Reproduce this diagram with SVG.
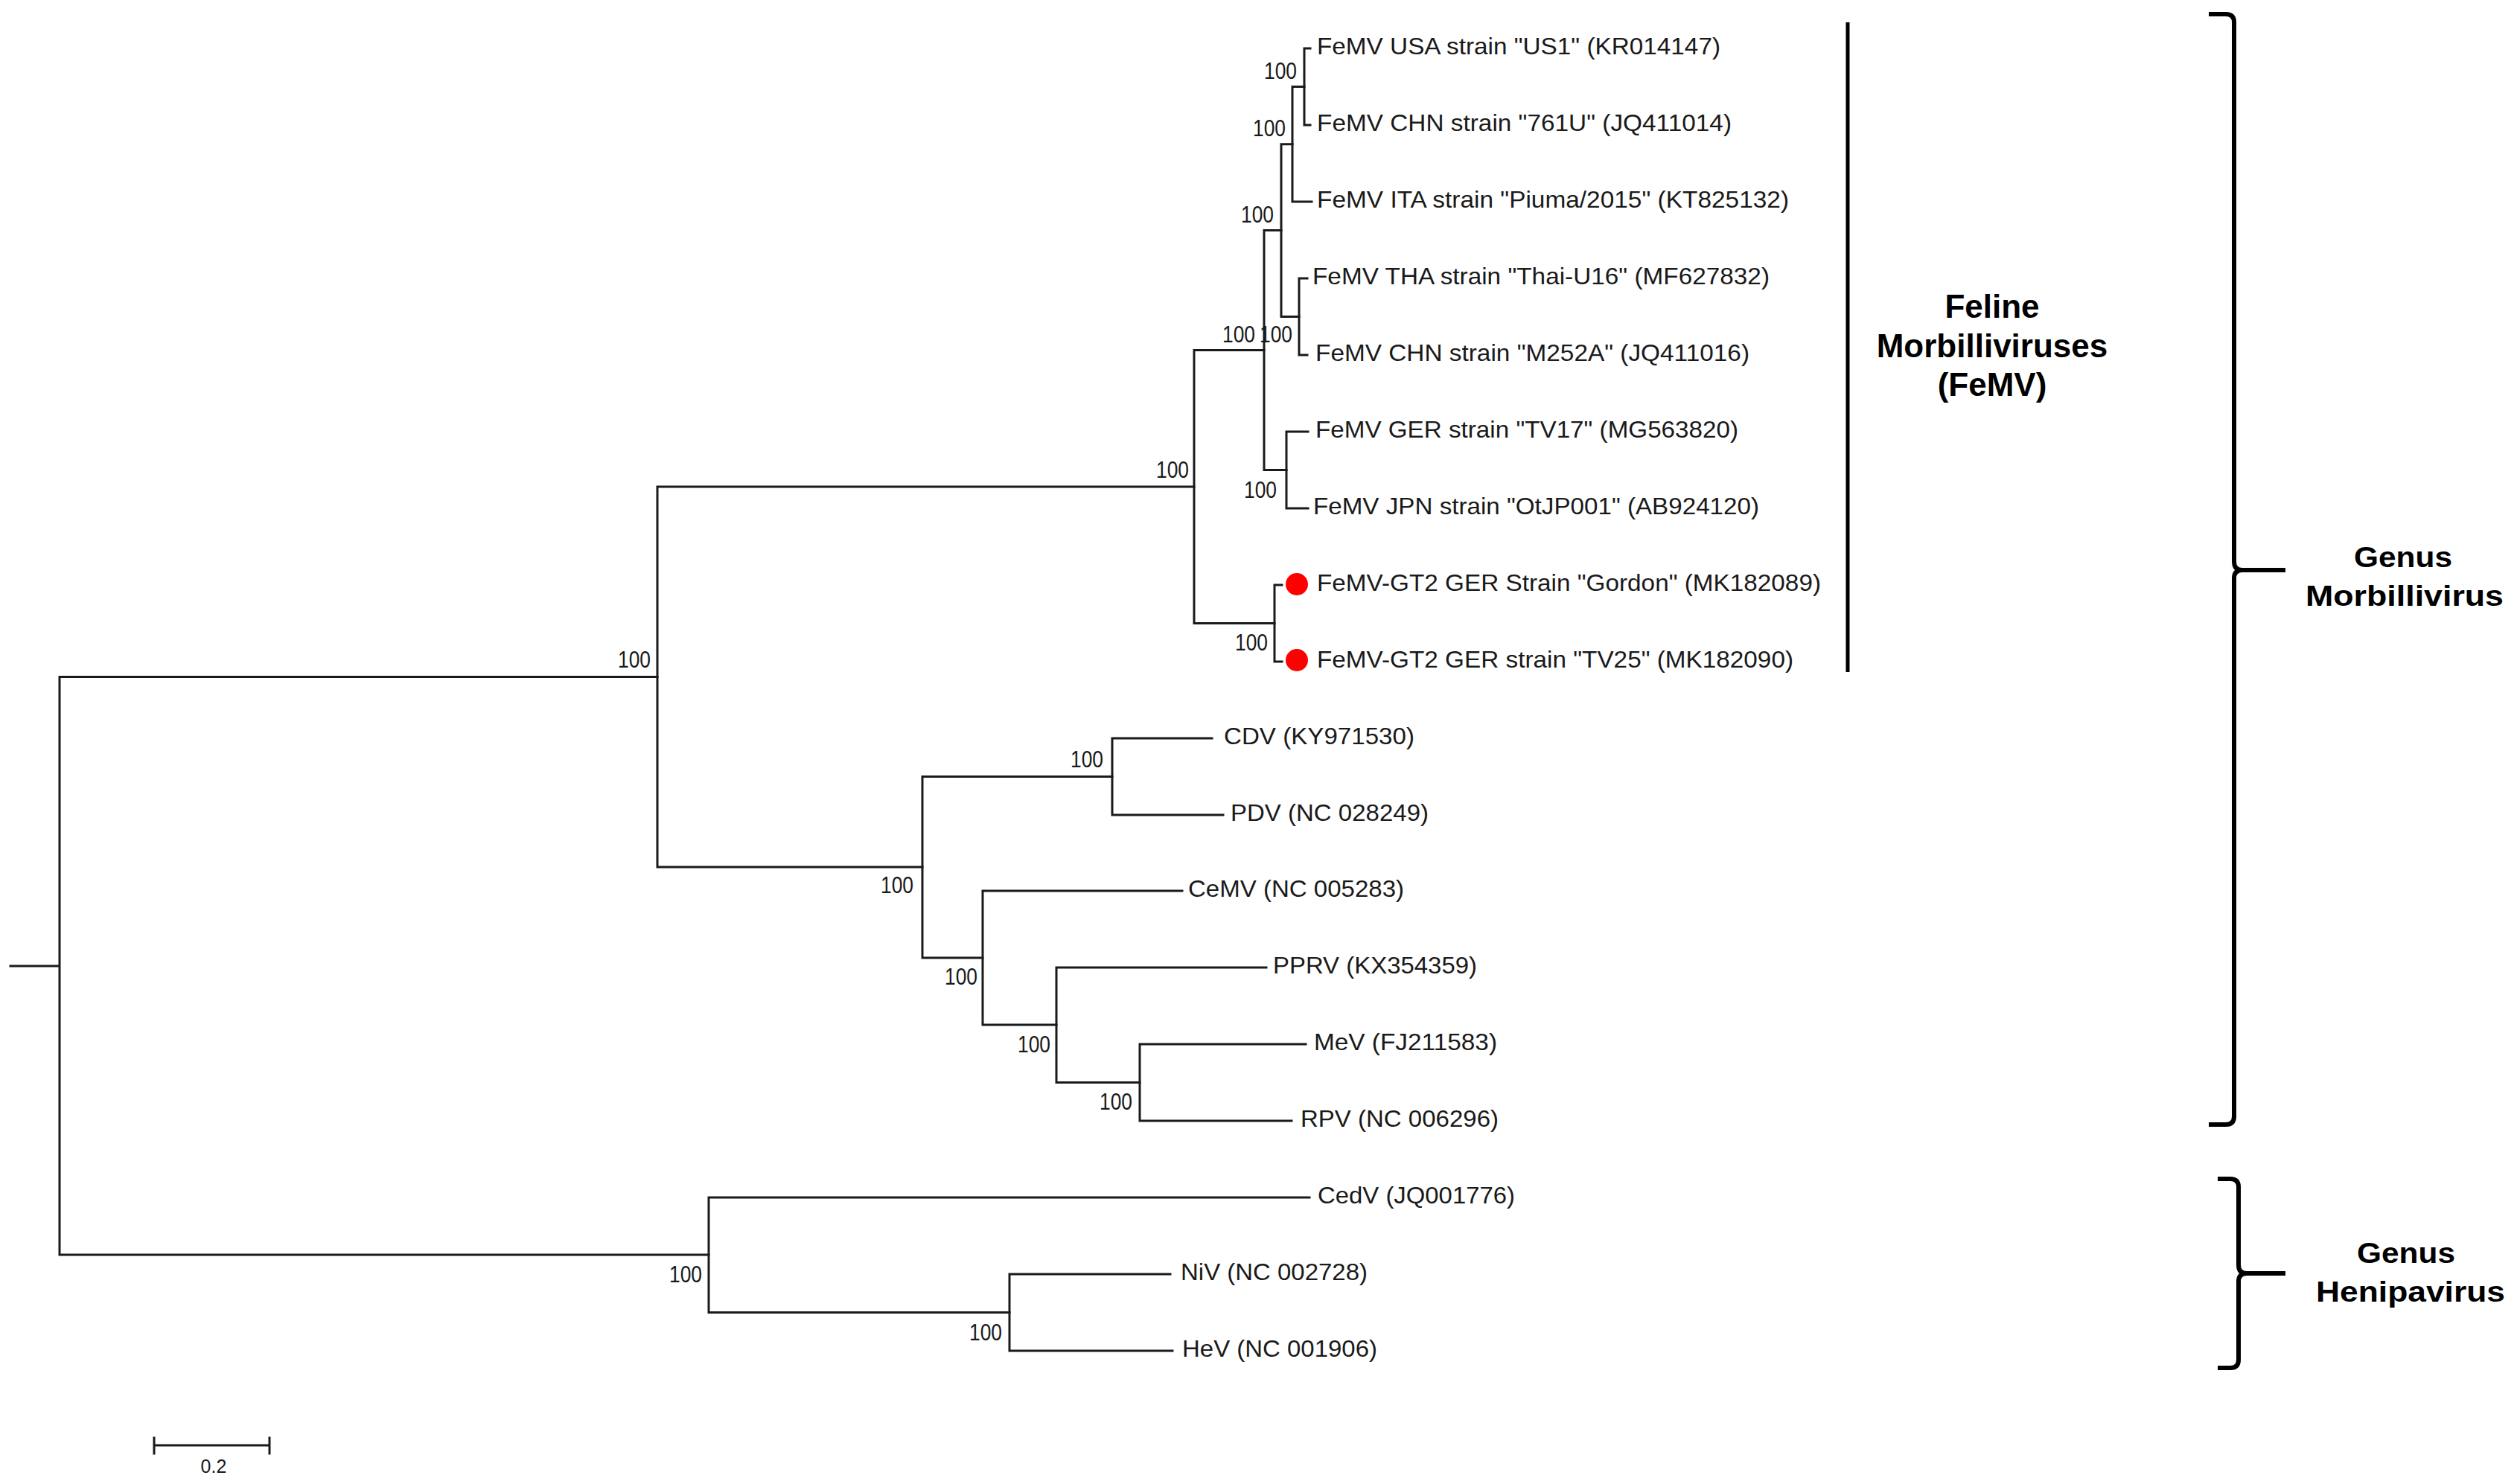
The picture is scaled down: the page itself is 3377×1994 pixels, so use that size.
<svg xmlns="http://www.w3.org/2000/svg" width="3377" height="1994" viewBox="0 0 3377 1994">
<style>
.br{stroke:#1a1a1a;stroke-width:3;fill:none;stroke-linecap:square}
.lf{font-family:"Liberation Sans",Arial,sans-serif;font-size:32px;fill:#1a1a1a}
.bs{font-family:"Liberation Sans",Arial,sans-serif;font-size:32px;fill:#1a1a1a;text-anchor:end}
.grp{font-family:"Liberation Sans",Arial,sans-serif;font-size:44px;font-weight:bold;fill:#000;text-anchor:middle}
.gen{font-family:"Liberation Sans",Arial,sans-serif;font-size:38px;font-weight:bold;fill:#000;text-anchor:middle}
.brace{stroke:#000;stroke-width:6;fill:none}
.dot{fill:#ff0000}
</style>
<rect width="3377" height="1994" fill="#ffffff"/>
<g id="connectors">
<path class="br" d="M14,1298 H80 M80,909.5 V1686 M80,909.5 H883 M80,1686 H952"/>
<path class="br" d="M883,654 V1165 M883,654 H1604 M883,1165 H1239"/>
<path class="br" d="M1604,470.6 V837.5 M1604,470.6 H1698 M1604,837.5 H1712"/>
<path class="br" d="M1698,309.6 V631.5 M1698,309.6 H1721 M1698,631.5 H1728"/>
<path class="br" d="M1721,193.75 V425.5 M1721,193.75 H1736 M1721,425.5 H1745"/>
<path class="br" d="M1736,116.5 V271 M1736,116.5 H1752 M1736,271 H1762"/>
<path class="br" d="M1752,65 V168 M1752,65 H1760 M1752,168 H1760"/>
<path class="br" d="M1745,374 V477 M1745,374 H1756 M1745,477 H1756"/>
<path class="br" d="M1728,580 V683 M1728,580 H1757 M1728,683 H1757"/>
<path class="br" d="M1712,786 V889 M1712,786 H1722 M1712,889 H1722"/>
<path class="br" d="M1239,1043.5 V1287 M1239,1043.5 H1494 M1239,1287 H1320"/>
<path class="br" d="M1494,992 V1095 M1494,992 H1628 M1494,1095 H1643"/>
<path class="br" d="M1320,1197 V1377 M1320,1197 H1588 M1320,1377 H1419"/>
<path class="br" d="M1419,1300 V1454.5 M1419,1300 H1701 M1419,1454.5 H1531"/>
<path class="br" d="M1531,1403 V1506 M1531,1403 H1754 M1531,1506 H1735"/>
<path class="br" d="M952,1609 V1763.5 M952,1609 H1759 M952,1763.5 H1356"/>
<path class="br" d="M1356,1712 V1815 M1356,1712 H1572 M1356,1815 H1575"/>
</g>
<g id="bootstrap">
<text class="bs" x="1742" y="106" textLength="44" lengthAdjust="spacingAndGlyphs">100</text>
<text class="bs" x="1727" y="183" textLength="44" lengthAdjust="spacingAndGlyphs">100</text>
<text class="bs" x="1711" y="299" textLength="44" lengthAdjust="spacingAndGlyphs">100</text>
<text class="bs" x="1686" y="460" textLength="44" lengthAdjust="spacingAndGlyphs">100</text>
<text class="bs" x="1736" y="460" textLength="44" lengthAdjust="spacingAndGlyphs">100</text>
<text class="bs" x="1715" y="669" textLength="44" lengthAdjust="spacingAndGlyphs">100</text>
<text class="bs" x="1703" y="874" textLength="44" lengthAdjust="spacingAndGlyphs">100</text>
<text class="bs" x="1597" y="642" textLength="44" lengthAdjust="spacingAndGlyphs">100</text>
<text class="bs" x="874" y="897" textLength="44" lengthAdjust="spacingAndGlyphs">100</text>
<text class="bs" x="1482" y="1031" textLength="44" lengthAdjust="spacingAndGlyphs">100</text>
<text class="bs" x="1227" y="1200" textLength="44" lengthAdjust="spacingAndGlyphs">100</text>
<text class="bs" x="1313" y="1323" textLength="44" lengthAdjust="spacingAndGlyphs">100</text>
<text class="bs" x="1411" y="1414" textLength="44" lengthAdjust="spacingAndGlyphs">100</text>
<text class="bs" x="1521" y="1491" textLength="44" lengthAdjust="spacingAndGlyphs">100</text>
<text class="bs" x="943" y="1723" textLength="44" lengthAdjust="spacingAndGlyphs">100</text>
<text class="bs" x="1346" y="1801" textLength="44" lengthAdjust="spacingAndGlyphs">100</text>
</g>
<g id="leaf-us1"><text class="lf" x="1769" y="73" textLength="542" lengthAdjust="spacingAndGlyphs">FeMV USA strain "US1" (KR014147)</text></g>
<g id="leaf-761u"><text class="lf" x="1769" y="176" textLength="557" lengthAdjust="spacingAndGlyphs">FeMV CHN strain "761U" (JQ411014)</text></g>
<g id="leaf-piuma"><text class="lf" x="1769" y="279" textLength="634" lengthAdjust="spacingAndGlyphs">FeMV ITA strain "Piuma/2015" (KT825132)</text></g>
<g id="leaf-thai"><text class="lf" x="1763" y="382" textLength="614" lengthAdjust="spacingAndGlyphs">FeMV THA strain "Thai-U16" (MF627832)</text></g>
<g id="leaf-m252a"><text class="lf" x="1767" y="485" textLength="583" lengthAdjust="spacingAndGlyphs">FeMV CHN strain "M252A" (JQ411016)</text></g>
<g id="leaf-tv17"><text class="lf" x="1767" y="588" textLength="568" lengthAdjust="spacingAndGlyphs">FeMV GER strain "TV17" (MG563820)</text></g>
<g id="leaf-otjp001"><text class="lf" x="1764" y="691" textLength="599" lengthAdjust="spacingAndGlyphs">FeMV JPN strain "OtJP001" (AB924120)</text></g>
<g id="leaf-gordon"><circle class="dot" cx="1742" cy="785" r="15"/><text class="lf" x="1769" y="794" textLength="677" lengthAdjust="spacingAndGlyphs">FeMV-GT2 GER Strain "Gordon" (MK182089)</text></g>
<g id="leaf-tv25"><circle class="dot" cx="1742" cy="887" r="15"/><text class="lf" x="1769" y="897" textLength="640" lengthAdjust="spacingAndGlyphs">FeMV-GT2 GER strain "TV25" (MK182090)</text></g>
<g id="leaf-cdv"><text class="lf" x="1644" y="1000" textLength="256" lengthAdjust="spacingAndGlyphs">CDV (KY971530)</text></g>
<g id="leaf-pdv"><text class="lf" x="1653" y="1103" textLength="266" lengthAdjust="spacingAndGlyphs">PDV (NC 028249)</text></g>
<g id="leaf-cemv"><text class="lf" x="1596" y="1205" textLength="290" lengthAdjust="spacingAndGlyphs">CeMV (NC 005283)</text></g>
<g id="leaf-pprv"><text class="lf" x="1710" y="1308" textLength="274" lengthAdjust="spacingAndGlyphs">PPRV (KX354359)</text></g>
<g id="leaf-mev"><text class="lf" x="1765" y="1411" textLength="246" lengthAdjust="spacingAndGlyphs">MeV (FJ211583)</text></g>
<g id="leaf-rpv"><text class="lf" x="1747" y="1514" textLength="266" lengthAdjust="spacingAndGlyphs">RPV (NC 006296)</text></g>
<g id="leaf-cedv"><text class="lf" x="1770" y="1617" textLength="265" lengthAdjust="spacingAndGlyphs">CedV (JQ001776)</text></g>
<g id="leaf-niv"><text class="lf" x="1586" y="1720" textLength="251" lengthAdjust="spacingAndGlyphs">NiV (NC 002728)</text></g>
<g id="leaf-hev"><text class="lf" x="1588" y="1823" textLength="262" lengthAdjust="spacingAndGlyphs">HeV (NC 001906)</text></g>
<g id="femv-group">
<line x1="2482" y1="30" x2="2482" y2="903" stroke="#000" stroke-width="5"/>
<text class="grp" x="2676" y="427">Feline</text>
<text class="grp" x="2676" y="480">Morbilliviruses</text>
<text class="grp" x="2676" y="532">(FeMV)</text>
</g>
<g id="morbillivirus-group">
<path class="brace" d="M2967,19 H2990 Q3001,19 3001,30 V755 Q3001,766 3012,766 H3070 M3012,766 Q3001,766 3001,777 V1500 Q3001,1511 2990,1511 H2967"/>
<text class="gen" x="3228" y="762" textLength="132" lengthAdjust="spacingAndGlyphs">Genus</text>
<text class="gen" x="3230" y="814" textLength="266" lengthAdjust="spacingAndGlyphs">Morbillivirus</text>
</g>
<g id="henipavirus-group">
<path class="brace" d="M2979,1584 H2996 Q3007,1584 3007,1595 V1700 Q3007,1711 3018,1711 H3070 M3018,1711 Q3007,1711 3007,1722 V1827 Q3007,1838 2996,1838 H2979"/>
<text class="gen" x="3232" y="1697" textLength="132" lengthAdjust="spacingAndGlyphs">Genus</text>
<text class="gen" x="3238" y="1749" textLength="254" lengthAdjust="spacingAndGlyphs">Henipavirus</text>
</g>
<g id="scale-bar">
<path class="br" d="M207,1942 H362 M207,1932 V1953 M362,1932 V1953"/>
<text x="287" y="1979" font-family="Liberation Sans, Arial, sans-serif" font-size="25" fill="#1a1a1a" text-anchor="middle">0.2</text>
</g>
</svg>
